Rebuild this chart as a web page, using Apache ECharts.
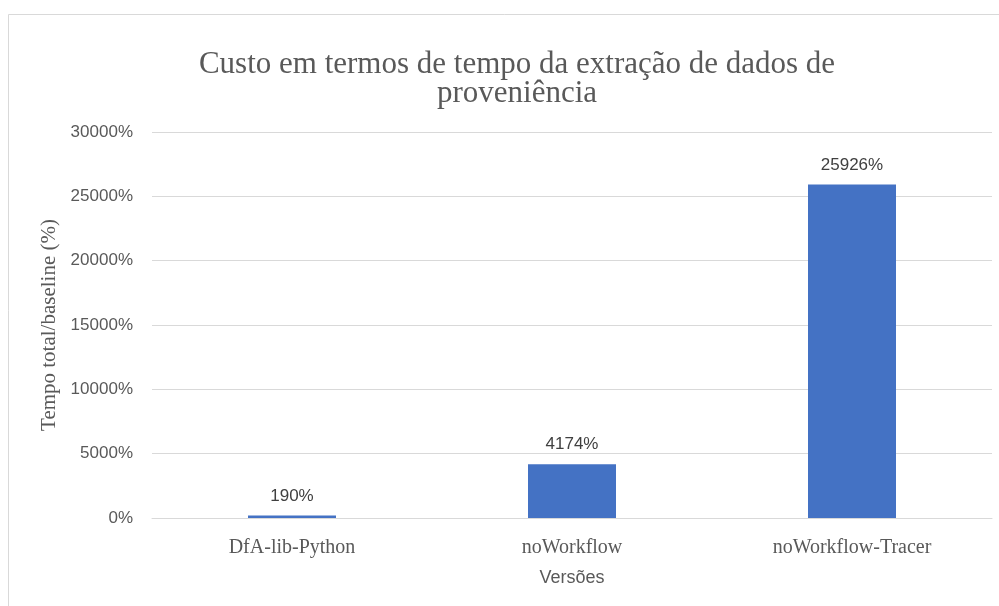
<!DOCTYPE html>
<html>
<head>
<meta charset="utf-8">
<script src="https://cdn.jsdelivr.net/npm/echarts@6/dist/echarts.min.js"></script>
<style>html,body{margin:0;padding:0;background:#fff;}#c{width:999px;height:606px;}</style>
</head>
<body>
<div id="c"></div>
<script>
const categories = ['DfA-lib-Python', 'noWorkflow', 'noWorkflow-Tracer'];
const values = [190, 4174, 25926];
const titleLines = ['Custo em termos de tempo da extração de dados de', 'proveniência'];
const yAxisName = 'Tempo total/baseline (%)';
const xAxisName = 'Versões';

const chart = echarts.init(document.getElementById('c'), null, {renderer: 'canvas'});
const serif = '"Liberation Serif", "DejaVu Serif", serif';
const sans = '"Liberation Sans", Arial, sans-serif';
chart.setOption({
  animation: false,
  backgroundColor: '#ffffff',
  graphic: [{
    type: 'rect', silent: true, z: -1,
    shape: {x: 8.5, y: 14.5, width: 1010, height: 620},
    style: {fill: 'none', stroke: '#d9d9d9', lineWidth: 1}
  }],
  title: {
    text: titleLines.join('\n'),
    left: 512, top: 45, textAlign: 'center',
    textStyle: {fontFamily: serif, fontSize: 31, fontWeight: 'normal', color: '#595959', lineHeight: 29}
  },
  grid: {left: 152, right: 7, top: 132, bottom: 88, containLabel: false},
  xAxis: {
    type: 'category', data: categories,
    axisTick: {show: false},
    axisLine: {lineStyle: {color: '#d9d9d9', width: 1}},
    axisLabel: {fontFamily: serif, fontSize: 20, color: '#595959', margin: 20},
    name: xAxisName, nameLocation: 'middle', nameGap: 51,
    nameTextStyle: {fontFamily: sans, fontSize: 18, color: '#595959'}
  },
  yAxis: {
    type: 'value', min: 0, max: 30000, interval: 5000,
    axisLabel: {formatter: function (v) { return String(v) + '%'; }, fontFamily: sans, fontSize: 17, color: '#595959', margin: 19},
    axisLine: {show: false}, axisTick: {show: false},
    splitLine: {lineStyle: {color: '#d9d9d9', width: 1}},
    name: yAxisName, nameLocation: 'middle', nameGap: 88,
    nameTextStyle: {fontFamily: serif, fontSize: 21, color: '#595959'}
  },
  series: [{
    type: 'bar', data: values, barWidth: 88,
    itemStyle: {color: '#4472c4'},
    label: {show: true, position: 'top', distance: 11, formatter: function (p) { return String(p.value) + '%'; }, fontFamily: sans, fontSize: 17, color: '#404040'}
  }]
});
</script>
</body>
</html>
